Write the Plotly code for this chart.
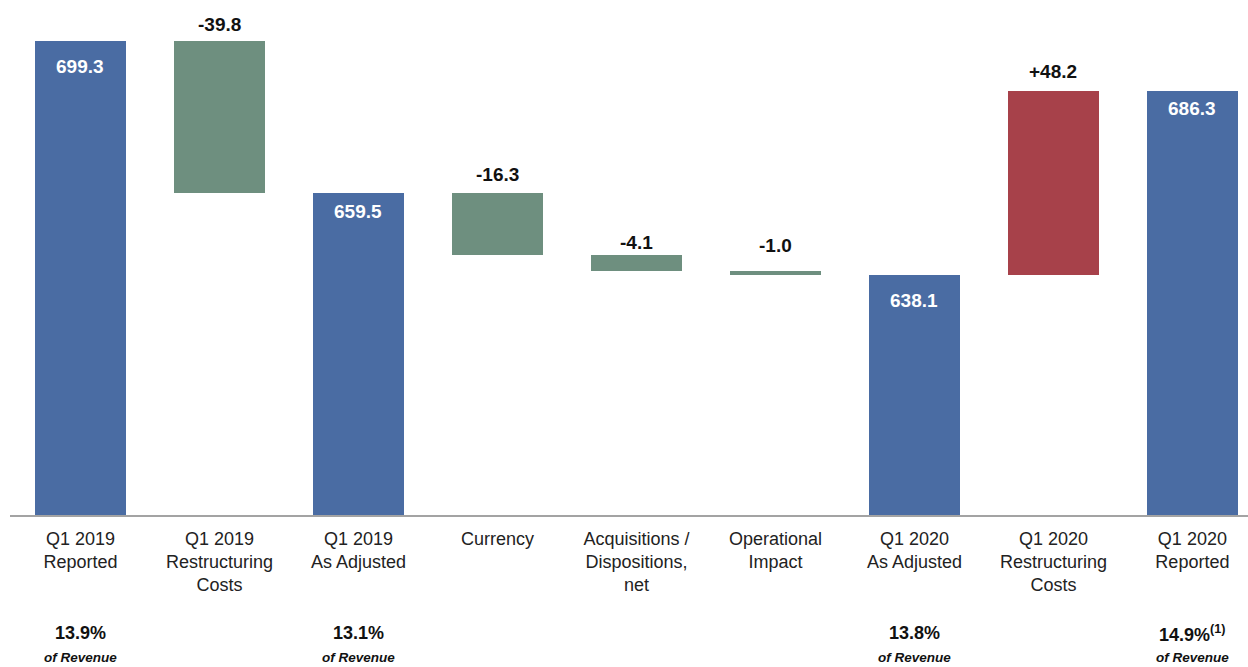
import plotly.graph_objects as go

# Operating income bridge, Q1 2019 -> Q1 2020 (USD millions)
categories = [
    "Q1 2019<br>Reported",
    "Q1 2019<br>Restructuring<br>Costs",
    "Q1 2019<br>As Adjusted",
    "Currency",
    "Acquisitions /<br>Dispositions,<br>net",
    "Operational<br>Impact",
    "Q1 2020<br>As Adjusted",
    "Q1 2020<br>Restructuring<br>Costs",
    "Q1 2020<br>Reported",
]
kinds = ["total", "relative", "total", "relative", "relative",
         "relative", "total", "relative", "total"]
values = [699.3, -39.8, 659.5, -16.3, -4.1, -1.0, 638.1, 48.2, 686.3]
margin_pct = ["13.9%", "", "13.1%", "", "", "", "13.8%", "", "14.9%<sup>(1)</sup>"]

BLUE = "#4a6ca3"
GREEN = "#6e8f7f"
RED = "#a7414a"

# vertical offset of each value label from the bar top (px)
label_shift = [-26, 16, -19, 18, 13, 25, -26, 19, -18]

x = list(range(len(categories)))
bases, heights, colors, tops = [], [], [], []
level = 0.0
for k, v in zip(kinds, values):
    if k == "total":
        bases.append(0)
        heights.append(v)
        colors.append(BLUE)
        level = v
        tops.append(v)
    else:
        bases.append(level)
        heights.append(v)
        colors.append(GREEN if v < 0 else RED)
        tops.append(max(level, level + v))
        level = level + v

fig = go.Figure(
    go.Bar(
        x=x,
        y=heights,
        base=bases,
        marker=dict(color=colors, line=dict(width=0)),
        width=0.66,
        hoverinfo="skip",
    )
)

annotations = []
for i, (k, v) in enumerate(zip(kinds, values)):
    if k == "total":
        txt, col = f"{v:.1f}", "white"
    else:
        txt, col = f"{v:+.1f}", "#111111"
    annotations.append(dict(
        x=i, y=tops[i], xref="x", yref="y", text=f"<b>{txt}</b>",
        showarrow=False, yshift=label_shift[i], yanchor="middle",
        font=dict(family="Liberation Sans, Arial", size=19, color=col),
    ))

for i, p in enumerate(margin_pct):
    if not p:
        continue
    annotations.append(dict(
        x=i, y=0, xref="x", yref="paper", text=f"<b>{p}</b>",
        showarrow=False, yshift=-118, yanchor="middle",
        font=dict(family="Liberation Sans, Arial", size=18, color="#111111"),
    ))
    annotations.append(dict(
        x=i, y=0, xref="x", yref="paper", text="<b><i>of Revenue</i></b>",
        showarrow=False, yshift=-142, yanchor="middle",
        font=dict(family="Liberation Sans, Arial", size=13.5, color="#111111"),
    ))

fig.update_layout(
    width=1248,
    height=667,
    margin=dict(l=10, r=0, t=0, b=152),
    paper_bgcolor="white",
    plot_bgcolor="white",
    showlegend=False,
    bargap=0,
    annotations=annotations,
    xaxis=dict(
        range=[-0.507, 8.40],
        tickvals=x,
        ticktext=categories,
        tickfont=dict(family="Liberation Sans, Arial", size=18, color="#222222"),
        ticklabelstandoff=6,
        showline=True,
        linecolor="#a3a3a3",
        linewidth=2,
        ticks="",
        showgrid=False,
        zeroline=False,
    ),
    yaxis=dict(
        range=[575.2, 710.0],
        visible=False,
        showgrid=False,
        zeroline=False,
    ),
)

fig.write_html("out.html")
